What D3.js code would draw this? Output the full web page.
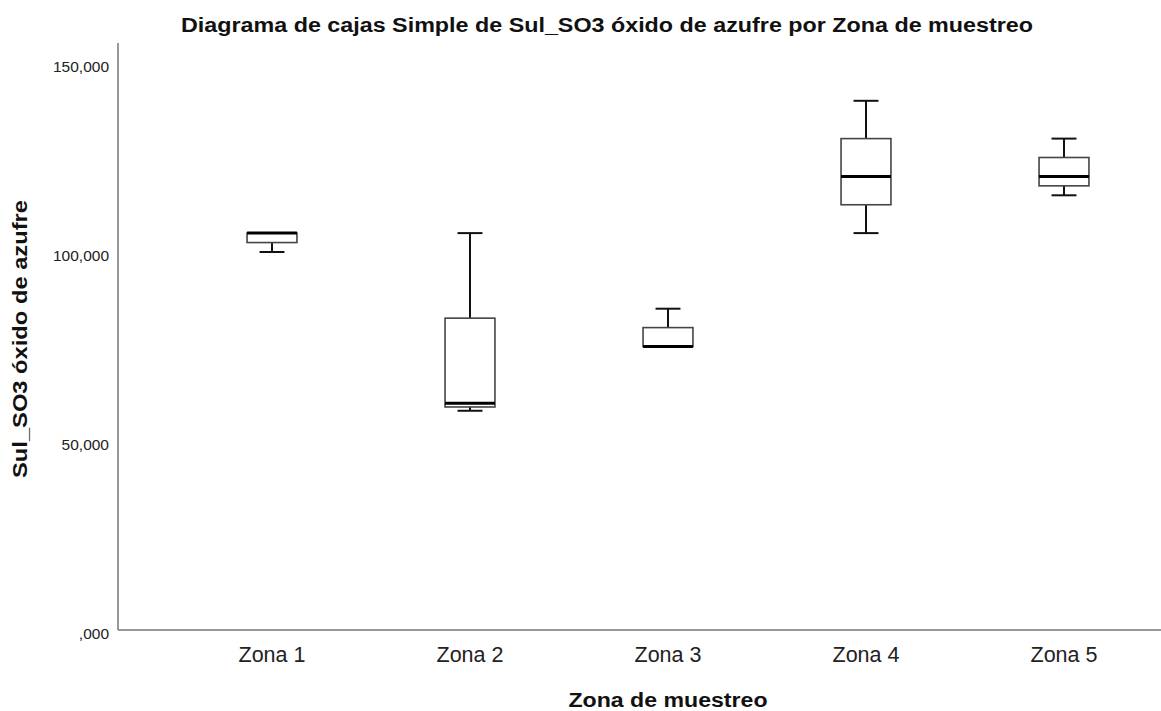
<!DOCTYPE html>
<html><head><meta charset="utf-8">
<script src="https://cdn.jsdelivr.net/npm/d3@7"></script>
<style>body{margin:0;background:#fff}svg{display:block}text{font-family:"Liberation Sans",Arial,sans-serif}</style>
</head><body><svg id="c" width="1161" height="711"></svg>
<script>
const zones = ["Zona 1","Zona 2","Zona 3","Zona 4","Zona 5"];
const mins    = [100000, 58000, 75000, 105000, 115000];
const q1s     = [102500, 59000, 75000, 112500, 117500];
const medians = [105000, 60000, 75000, 120000, 120000];
const q3s     = [105000, 82500, 80000, 130000, 125000];
const maxs    = [105000, 105000, 85000, 140000, 130000];
const yTicks = [0, 50000, 100000, 150000];
const yTickLabels = [",000", "50,000", "100,000", "150,000"];

const svg = d3.select("#c");
const x0 = 118, x1 = 1161, yBottom = 630, yTop = 43;
const y = d3.scaleLinear().domain([0, 150000]).range([yBottom, 63]);
const x = d3.scaleBand().domain(zones).range([173, 1163]).paddingInner(0);
const boxW = x.step() * 0.252, capW = x.step() * 0.126;

// axes
svg.append("line").attr("x1", x0).attr("x2", x0).attr("y1", yTop).attr("y2", yBottom)
  .attr("stroke", "#777").attr("stroke-width", 1.5);
svg.append("line").attr("x1", x0).attr("x2", x1).attr("y1", yBottom).attr("y2", yBottom)
  .attr("stroke", "#777").attr("stroke-width", 1.5);

// y tick labels
svg.selectAll(".yt").data(yTicks).enter().append("text")
  .attr("x", 109).attr("y", d => y(d) + 9).attr("text-anchor", "end")
  .attr("font-size", 15.5).attr("fill", "#222").text((d, i) => yTickLabels[i]);

// x tick labels
svg.selectAll(".xt").data(zones).enter().append("text")
  .attr("x", d => x(d) + x.bandwidth() / 2).attr("y", 662).attr("text-anchor", "middle")
  .attr("font-size", 21.5).attr("fill", "#222").text(d => d);

const g = svg.selectAll(".box").data(zones).enter().append("g");
const cx = d => x(d) + x.bandwidth() / 2;
// whiskers
g.append("line").attr("x1", cx).attr("x2", cx)
  .attr("y1", (d, i) => y(maxs[i])).attr("y2", (d, i) => y(q3s[i]))
  .attr("stroke", "#111").attr("stroke-width", 2);
g.append("line").attr("x1", cx).attr("x2", cx)
  .attr("y1", (d, i) => y(q1s[i])).attr("y2", (d, i) => y(mins[i]))
  .attr("stroke", "#111").attr("stroke-width", 2);
// caps (only when whisker exists)
g.filter((d, i) => maxs[i] > q3s[i]).append("line")
  .attr("x1", d => cx(d) - capW / 2).attr("x2", d => cx(d) + capW / 2)
  .attr("y1", d => y(maxs[zones.indexOf(d)])).attr("y2", d => y(maxs[zones.indexOf(d)]))
  .attr("stroke", "#111").attr("stroke-width", 2);
g.filter((d, i) => mins[i] < q1s[i]).append("line")
  .attr("x1", d => cx(d) - capW / 2).attr("x2", d => cx(d) + capW / 2)
  .attr("y1", d => y(mins[zones.indexOf(d)])).attr("y2", d => y(mins[zones.indexOf(d)]))
  .attr("stroke", "#111").attr("stroke-width", 2);
// boxes
g.append("rect").attr("x", d => cx(d) - boxW / 2).attr("width", boxW)
  .attr("y", (d, i) => y(q3s[i])).attr("height", (d, i) => y(q1s[i]) - y(q3s[i]))
  .attr("fill", "#fff").attr("stroke", "#444").attr("stroke-width", 1.6);
// medians
g.append("line").attr("x1", d => cx(d) - boxW / 2).attr("x2", d => cx(d) + boxW / 2)
  .attr("y1", (d, i) => y(medians[i])).attr("y2", (d, i) => y(medians[i]))
  .attr("stroke", "#000").attr("stroke-width", 3);

// titles
svg.append("text").attr("x", 607).attr("y", 32).attr("text-anchor", "middle")
  .attr("font-size", 20).attr("font-weight", "bold").attr("fill", "#111")
  .attr("textLength", 852).attr("lengthAdjust", "spacingAndGlyphs")
  .text("Diagrama de cajas Simple de Sul_SO3 óxido de azufre por Zona de muestreo");
svg.append("text").attr("x", 668).attr("y", 707).attr("text-anchor", "middle")
  .attr("font-size", 20).attr("font-weight", "bold").attr("fill", "#111")
  .attr("textLength", 199).attr("lengthAdjust", "spacingAndGlyphs")
  .text("Zona de muestreo");
svg.append("text").attr("transform", "translate(27,339) rotate(-90)").attr("text-anchor", "middle")
  .attr("font-size", 20).attr("font-weight", "bold").attr("fill", "#111")
  .attr("textLength", 278).attr("lengthAdjust", "spacingAndGlyphs")
  .text("Sul_SO3 óxido de azufre");
</script></body></html>
